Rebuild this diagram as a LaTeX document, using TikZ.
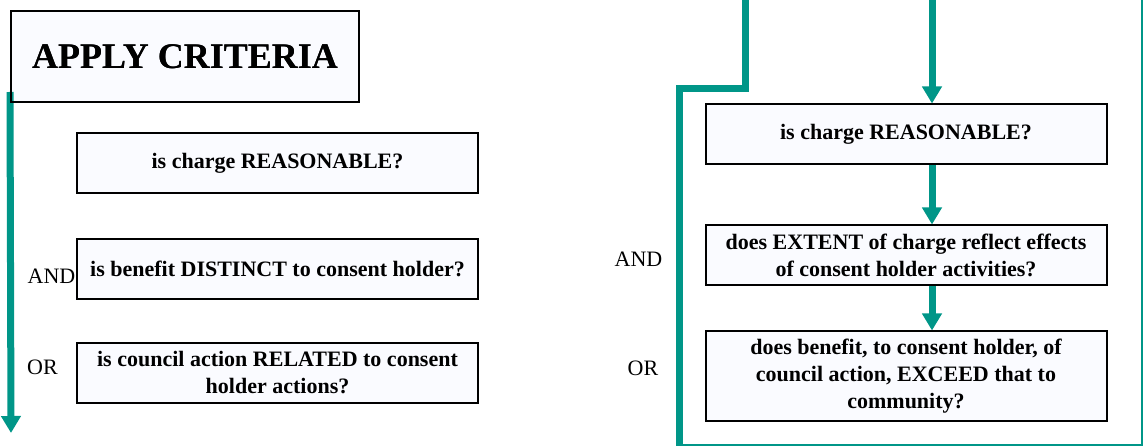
\documentclass[tikz,border=0pt]{standalone}
\usepackage{fontspec}
\setmainfont{Liberation Serif}
\usepackage{tikz}
\usetikzlibrary{arrows.meta,positioning,calc}
\definecolor{teal}{RGB}{0,150,136}
\definecolor{boxfill}{RGB}{250,251,255}
\tikzset{
    %Define standard arrow tip
    >={Triangle[width=19pt,length=17pt]},
    %Define style for boxes
    critbox/.style={
           rectangle,
           draw=black, line width=2pt,
           fill=boxfill,
           minimum width=401pt,
           minimum height=60pt,
           inner sep=2pt,
           font=\fontsize{22}{27}\selectfont\bfseries,
           align=center},
    titlebox/.style={
           rectangle,
           draw=black, line width=2pt,
           fill=boxfill,
           minimum width=348pt,
           minimum height=91pt,
           font=\fontsize{36}{40}\selectfont\bfseries},
    joiner/.style={
           font=\fontsize{22}{26}\selectfont,
           inner sep=0pt},
    % Define arrow style
    flow/.style={
           draw=teal,
           line width=7pt},
    pil/.style={
           flow, ->},
    frame/.style={
           draw=teal,
           line width=1.2pt}
}
\begin{document}
\begin{tikzpicture}[x=1pt,y=-1pt]
\useasboundingbox (0,0) rectangle (1144,446);
 %left column
\coordinate (lend) at (11,433);
\node[titlebox] (title) at (185,56.5) {APPLY CRITERIA};
\draw[pil] ([yshift=11pt]title.south west) -- (lend);
\node[titlebox, fill=none] at (title) {APPLY CRITERIA};

\node[critbox] (l1) at (277.5,163.5) {is charge REASONABLE?};
\node[critbox] (l2) at (277.5,269) {is benefit DISTINCT to consent holder?};
\node[critbox] (l3) at (277.5,373) {is council action RELATED to consent\\holder actions?};
\node[joiner] (land) at (51.5,276) {AND};
\node[joiner] (lor) at (42.5,367) {OR};

 %right column
\coordinate (rtop) at (745,0);
\coordinate (rbot) at (679,446);
\coordinate (fcorner) at (1142,445);
\coordinate (col) at (932,0);
\draw[frame] (rbot |- fcorner) -- (fcorner) -- (fcorner |- rtop);
\draw[flow, line join=miter] (rtop) -- ++(0,89) -| (rbot);

\node[critbox] (r1) at (906,134.5) {is charge REASONABLE?};
\node[critbox, below=59pt of r1] (r2) {does EXTENT of charge reflect effects\\of consent holder activities?};
\node[critbox, minimum height=90pt, below=44pt of r2] (r3) {does benefit, to consent holder, of\\council action, EXCEED that to\\community?};
\node[joiner] (rand) at (638.5,259) {AND};
\node[joiner] (ror) at (643,368) {OR};

\draw[pil] (col) -- (col |- r1.north);
\draw[pil] (r1.south -| col) -- (r2.north -| col);
\draw[pil] (r2.south -| col) -- (r3.north -| col);
\end{tikzpicture}
\end{document}
